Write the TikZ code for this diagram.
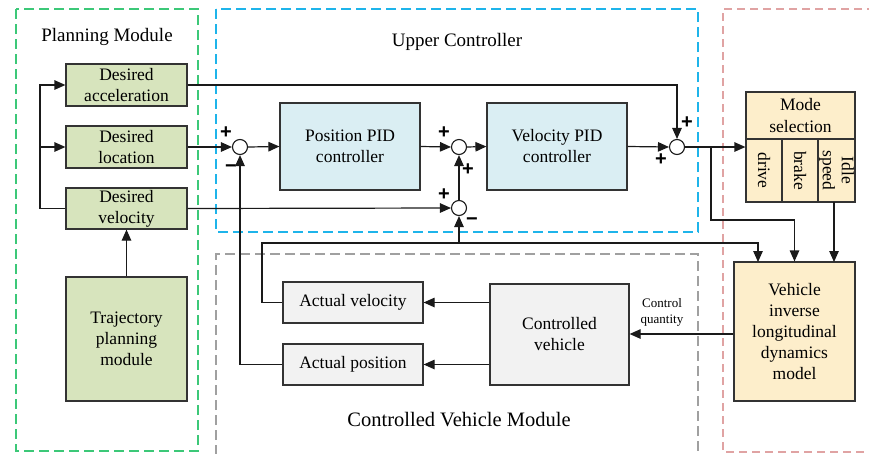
\documentclass[tikz,border=0pt]{standalone}
\usepackage{fontspec}
\setmainfont{Liberation Serif}
\newfontfamily\signfont{Liberation Sans}
\usetikzlibrary{arrows.meta,calc}

\definecolor{plangreen}{HTML}{D7E4BD}
\definecolor{ctrlblue}{HTML}{DAEEF3}
\definecolor{plantgrey}{HTML}{F2F2F2}
\definecolor{modeyellow}{HTML}{FDEECB}
\definecolor{framegreen}{HTML}{3CC878}
\definecolor{frameblue}{HTML}{1EB4EA}
\definecolor{framegrey}{HTML}{A0A0A0}
\definecolor{framered}{HTML}{E0A3A3}
\definecolor{wire}{HTML}{1A1A1A}
\definecolor{boxedge}{HTML}{333333}

\tikzset{
  blk/.style={draw=boxedge, line width=1.2pt, align=center, inner sep=0pt,
    font=\fontsize{17.5}{21}\selectfont},
  planbox/.style={blk, fill=plangreen},
  pidbox/.style={blk, fill=ctrlblue},
  plantbox/.style={blk, fill=plantgrey},
  modebox/.style={blk, fill=modeyellow},
  sumnode/.style={circle, draw=wire, line width=1.1pt, fill=white,
    minimum size=15pt, inner sep=0pt},
  arr/.style={draw=wire, line width=1.2pt, -{Triangle[length=11pt,width=9.5pt]}},
  sign/.style={inner sep=0pt, font=\signfont\bfseries\fontsize{20}{20}\selectfont},
  title/.style={inner sep=0pt, font=\fontsize{19}{22}\selectfont},
  framebox/.style={line width=1.8pt, dash pattern=on 10pt off 5pt},
}

\begin{document}
\begin{tikzpicture}[x=1pt, y=-1pt]
\useasboundingbox (0,0) rectangle (869,453);

% module frames
\draw[framebox, draw=framegreen] (16,9) rectangle (198,451);
\draw[framebox, draw=frameblue] (216,9) rectangle (698,232);
\draw[framebox, draw=framegrey, line width=1.5pt] (216,455) -- (216,254) -- (698,254) -- (698,455);
\draw[draw=framered, line width=1.2pt, dash pattern=on 8pt off 5pt] (875,9) -- (723,9) -- (723,452) -- (875,452);

% frame titles
\node[title] (tplan) at (107,37) {Planning Module};
\node[title] (tupper) at (457,42) {Upper Controller};
\node[inner sep=0pt, font=\fontsize{20.5}{24}\selectfont] (tplant) at (459,420) {Controlled Vehicle Module};

% planning blocks
\node[planbox, minimum width=121pt, minimum height=42pt] (acc) at (126.5,85) {Desired\\acceleration};
\node[planbox, minimum width=121pt, minimum height=42pt] (loc) at (126.5,147) {Desired\\location};
\node[planbox, minimum width=121pt, minimum height=41pt] (vel) at (126.5,208.5) {Desired\\velocity};
\node[planbox, minimum width=121pt, minimum height=124pt] (traj) at (126.5,339) {Trajectory\\planning\\module};

% controllers
\node[pidbox, minimum width=140pt, minimum height=87pt] (pospid) at (350,146.5) {Position PID\\controller};
\node[pidbox, minimum width=140pt, minimum height=87pt] (velpid) at (557,146.5) {Velocity PID\\controller};

% summing junctions
\node[sumnode] (s1) at (240,147) {};
\node[sumnode] (s2) at (459,147) {};
\node[sumnode] (s3) at (459,208) {};
\node[sumnode] (s4) at (677,147) {};

% signs
\node[sign] (p1) at (226,133) {+};
\node[sign] (m1) at (231,169) {−};
\node[sign] (p2a) at (444,133) {+};
\node[sign] (p2b) at (468,170) {+};
\node[sign] (p3) at (444,195) {+};
\node[sign] (m3) at (472,222) {−};
\node[sign] (p4a) at (687,123) {+};
\node[sign] (p4b) at (661,160) {+};

% mode selection block
\node[modebox, minimum width=109pt, minimum height=110pt] (mode) at (800.5,147) {};
\coordinate (mhl) at (746,139);
\coordinate (mhr) at (855,139);
\draw[draw=boxedge, line width=1.2pt] (mhl) -- (mhr);
\draw[draw=boxedge, line width=1.2pt] (782,139) -- (782,202);
\draw[draw=boxedge, line width=1.2pt] (818,139) -- (818,202);
\node[inner sep=0pt, align=center, font=\fontsize{17.5}{22}\selectfont] (mtitle) at (800.5,115.5) {Mode\\selection};
\node[inner sep=0pt, rotate=-90, font=\fontsize{17.5}{19}\selectfont] (mdrive) at (764,170.5) {drive};
\node[inner sep=0pt, rotate=-90, font=\fontsize{17.5}{19}\selectfont] (mbrake) at (800,170.5) {brake};
\node[inner sep=0pt, rotate=-90, align=center, font=\fontsize{17.5}{19}\selectfont] (midle) at (836.5,170.5) {Idle\\speed};

% inverse dynamics and plant
\node[modebox, minimum width=121pt, minimum height=139pt] (vim) at (794.5,331.5) {Vehicle\\inverse\\longitudinal\\dynamics\\model};
\node[plantbox, minimum width=139pt, minimum height=101pt] (cv) at (559.5,334.5) {Controlled\\vehicle};
\node[plantbox, minimum width=140pt, minimum height=41pt] (av) at (353,302.5) {Actual velocity};
\node[plantbox, minimum width=140pt, minimum height=41pt] (ap) at (353,364.5) {Actual position};

% planning connections
\coordinate (busb) at (40,208.5);
\draw[arr] (vel.west) -- (busb) |- (acc.west);
\draw[arr] (busb |- loc.west) -- (loc.west);
\draw[arr] (traj.north) -- (vel.south);

% forward path
\draw[arr] (acc.east) -| (s4.north);
\draw[arr] (loc.east) -- (s1.west);
\draw[arr] (vel.east) -- (s3.west);
\draw[arr] (s1.east) -- (pospid.west);
\draw[arr] (pospid.east) -- (s2.west);
\draw[arr] (s2.east) -- (velpid.west);
\draw[arr] (s3.north) -- (s2.south);
\draw[arr] (velpid.east) -- (s4.west);
\draw[arr] (s4.east) -- (mode.west);

% branch to inverse dynamics
\coordinate (br) at (711,147);
\coordinate (brlow) at (711,220);
\draw[arr] (br) -- (brlow) -| (vim.north);
\draw[arr] (834,202) -- (834,262);

% velocity feedback
\coordinate (fbl) at (262,243);
\coordinate (fbr) at (758,243);
\coordinate (vimin) at (758,262);
\draw[arr] (av.west) -| (fbl) -- (fbr) -- (vimin);
\draw[arr] (s3.south |- fbl) -- (s3.south);

% position feedback
\draw[arr] (ap.west) -| (s1.south);

% plant outputs
\draw[arr] (cv.west |- av.east) -- (av.east);
\draw[arr] (cv.west |- ap.east) -- (ap.east);

% control quantity
\draw[arr] (vim.west |- 0,334) -- (cv.east |- 0,334);
\node[inner sep=0pt, align=center, font=\fontsize{13}{16}\selectfont] (cq) at (662,312) {Control\\quantity};
\end{tikzpicture}
\end{document}
